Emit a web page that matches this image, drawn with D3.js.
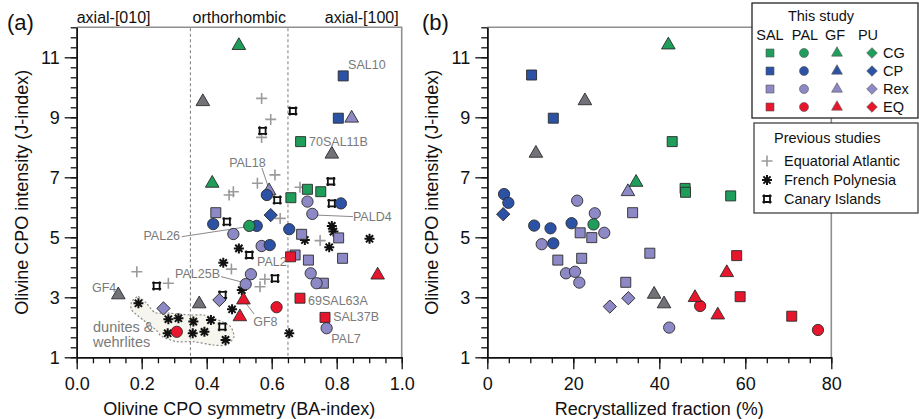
<!DOCTYPE html>
<html><head><meta charset="utf-8">
<script src="https://cdn.jsdelivr.net/npm/d3@7"></script>
<style>body{margin:0;background:#fff} svg{display:block;font-family:"Liberation Sans",Arial,Helvetica,sans-serif}</style>
</head><body><svg id="c" width="919" height="419"></svg>
<script>
// ---------------- data ----------------
const aTicksX = [0, 0.2, 0.4, 0.6, 0.8, 1.0];
const bTicksX = [0, 20, 40, 60, 80];
const yTicks = [1, 3, 5, 7, 9, 11];
const regionLabels = ["axial-[010]", "orthorhombic", "axial-[100]"];
const regionBounds = [0.35, 0.65];

// panel (a): [BA-index, J-index, locality]
const aCG = [[0.689,8.19,'SAL'],[0.659,6.32,'SAL'],[0.710,6.60,'SAL'],[0.751,6.52,'SAL'],[0.531,5.38,'PAL'],[0.499,11.39,'GF'],[0.417,6.80,'GF']];
const aCP = [[0.820,10.38,'SAL'],[0.805,8.97,'SAL'],[0.420,5.44,'PAL'],[0.554,5.38,'PAL'],[0.585,6.41,'PAL'],[0.813,6.13,'PAL'],[0.654,5.27,'PAL'],[0.594,4.74,'PAL'],[0.597,5.74,'PU']];
const aRex = [[0.428,5.82,'SAL'],[0.692,5.10,'SAL'],[0.806,4.98,'SAL'],[0.672,4.41,'SAL'],[0.713,4.24,'SAL'],[0.818,4.30,'SAL'],[0.759,3.47,'SAL'],
  [0.482,5.11,'PAL'],[0.536,3.77,'PAL'],[0.710,6.19,'PAL'],[0.725,5.78,'PAL'],[0.569,4.71,'PAL'],[0.720,3.80,'PAL'],[0.738,3.47,'PAL'],[0.520,3.44,'PAL'],[0.769,1.97,'PAL'],
  [0.846,8.97,'GF'],[0.592,6.55,'GF'],[0.267,2.63,'PU'],[0.439,2.91,'PU']];
const aEQ = [[0.658,4.35,'SAL'],[0.687,2.97,'SAL'],[0.764,2.33,'SAL'],[0.615,2.67,'PAL'],[0.308,1.85,'PAL'],[0.926,3.74,'GF'],[0.513,2.91,'GF'],[0.502,2.35,'GF']];
const aGFgrey = [[0.388,9.52],[0.785,7.77],[0.128,3.08],[0.377,2.78]];
const aEqAtlantic = [[0.569,9.63],[0.597,8.93],[0.569,8.33],[0.482,6.52],[0.469,6.41],[0.556,6.80],[0.610,7.08],[0.687,6.67],[0.626,5.63],[0.476,3.94],[0.185,3.85],[0.749,4.89],[0.579,3.60],[0.564,3.35],[0.282,3.47]];
const aFrPolynesia = [[0.785,5.38],[0.790,5.19],[0.901,4.95],[0.777,4.67],[0.702,4.91],[0.499,4.63],[0.451,4.15],[0.508,3.24],[0.478,2.60],[0.190,2.80],[0.282,2.27],[0.313,2.30],[0.359,2.19],[0.413,2.24],[0.280,1.80],[0.357,1.80],[0.393,1.85],[0.458,1.58],[0.654,1.80]];
const aCanary = [[0.665,9.21],[0.572,8.55],[0.462,5.52],[0.531,4.41],[0.617,6.24],[0.782,6.86],[0.785,6.13],[0.610,3.63],[0.449,3.08],[0.246,3.38],[0.448,2.02]];
// sample labels [text, x, y, anchor]
const aLabels = [['SAL10',0.835,10.74,'start'],['70SAL11B',0.715,8.18,'start'],['PAL18',0.469,7.48,'start'],['PALD4',0.850,5.68,'start'],
  ['PAL26',0.318,5.04,'end'],['PAL25B',0.441,3.80,'end'],['PAL2',0.555,4.18,'start'],['GF4',0.047,3.31,'start'],['GF8',0.543,2.18,'start'],
  ['69SAL63A',0.712,2.88,'start'],['SAL37B',0.789,2.34,'start'],['PAL7',0.783,1.61,'start']];
const aLeaders = [[0.570,7.31,0.595,6.50],[0.738,5.74,0.850,5.69],[0.323,5.02,0.523,5.35],[0.444,3.69,0.518,3.48],[0.546,2.44,0.518,2.84]];
// dunites & wehrlites field outline [x, y]
const duniteField = [[0.169,2.85],[0.189,3.02],[0.215,2.80],[0.241,2.49],[0.287,2.47],[0.349,2.41],[0.390,2.41],[0.431,2.26],[0.472,2.04],[0.484,1.69],[0.462,1.41],[0.420,1.41],[0.359,1.52],[0.308,1.52],[0.262,1.69],[0.244,1.91],[0.205,2.24],[0.169,2.58]];
const duniteText = ['dunites &', 'wehrlites'];

// panel (b): [recrystallized %, J-index, locality]
const bCG = [[43.0,8.19,'SAL'],[46.0,6.63,'SAL'],[46.1,6.50,'SAL'],[56.6,6.38,'SAL'],[24.7,5.43,'PAL'],[42.1,11.41,'GF'],[34.6,6.83,'GF']];
const bCP = [[10.3,10.41,'SAL'],[15.35,8.97,'SAL'],[3.9,6.44,'PAL'],[4.9,6.15,'PAL'],[10.9,5.39,'PAL'],[14.7,5.30,'PAL'],[19.6,5.47,'PAL'],[15.35,4.80,'PAL'],[3.7,5.77,'PU']];
const bRex = [[33.8,5.82,'SAL'],[21.6,5.15,'SAL'],[24.3,4.99,'SAL'],[16.4,4.24,'SAL'],[21.95,4.30,'SAL'],[37.8,4.47,'SAL'],[32.2,3.50,'SAL'],
  [20.9,6.22,'PAL'],[25.0,5.80,'PAL'],[27.2,5.15,'PAL'],[12.65,4.77,'PAL'],[18.3,3.80,'PAL'],[20.4,3.85,'PAL'],[21.4,3.49,'PAL'],[42.3,1.99,'PAL'],
  [32.7,6.52,'GF'],[32.8,2.97,'PU'],[28.5,2.69,'PU']];
const bEQ = [[58.0,4.39,'SAL'],[58.8,3.02,'SAL'],[70.8,2.37,'SAL'],[49.5,2.71,'PAL'],[76.9,1.91,'PAL'],[48.3,2.99,'GF'],[53.6,2.41,'GF'],[55.7,3.82,'GF']];
const bGFgrey = [[22.7,9.55],[11.3,7.80],[38.8,3.10],[41.1,2.78]];

// legend
const localities = ['SAL','PAL','GF','PU'];
const textures = ['CG','CP','Rex','EQ'];
const previous = ['Equatorial Atlantic','French Polynesia','Canary Islands'];

// ---------------- drawing ----------------
const colors = {CG:'#1f9d5b', CP:'#2c52a6', Rex:'#8c89c6', EQ:'#e8162c', grey:'#727279'};
const svg = d3.select('#c');

const xa = d3.scaleLinear([0,1],[76.7,401.7]);
const xb = d3.scaleLinear([0,80],[487.3,831.3]);
const y = d3.scaleLinear([1,12],[357.3,27.3]);

const shapeGen = {
  SAL: s => d3.symbol(d3.symbolSquare, 100*s*s)(),
  PAL: s => d3.symbol(d3.symbolCircle, 100*s*s)(),
  GF:  s => d3.symbol(d3.symbolTriangle, 80*s*s)(),
  PU:  s => d3.symbol(d3.symbolSquare, 88*s*s)()
};
const plusPath = 'M-5.5,0H5.5M0,-5.5V5.5';
const starPath = 'M-5,0H5M0,-5V5M-3.6,-3.6L3.6,3.6M-3.6,3.6L3.6,-3.6';
const canaryPath = 'M-4.5,-3H4.5M-4.5,3H4.5M-3,-4.5V4.5M3,-4.5V4.5';

function axes(x, minorStep, majors, fmt){
  const [r0, r1] = x.range();
  svg.append('path').attr('d',`M${r0},${y(12)}H${r1}V${y(1)}`).attr('fill','none').attr('stroke','#8f8f8f').attr('stroke-width',1.6);
  const d = x.domain();
  const minors = d3.range(d[0], d[1] + minorStep/2, minorStep);
  const gx1 = svg.append('g').attr('transform',`translate(0,${y(1)})`)
    .call(d3.axisBottom(x).tickValues(minors).tickSize(6).tickSizeOuter(0).tickFormat(''));
  const gx2 = svg.append('g').attr('transform',`translate(0,${y(1)})`)
    .call(d3.axisBottom(x).tickValues(majors).tickSize(12).tickSizeOuter(0).tickPadding(8).tickFormat(fmt));
  const yMinors = d3.range(0, 34).map(k => 1 + k/3);
  const gy1 = svg.append('g').attr('transform',`translate(${r0},0)`)
    .call(d3.axisLeft(y).tickValues(yMinors).tickSize(6).tickSizeOuter(0).tickFormat(''));
  const gy2 = svg.append('g').attr('transform',`translate(${r0},0)`)
    .call(d3.axisLeft(y).tickValues(yTicks).tickSize(12).tickSizeOuter(0).tickPadding(5).tickFormat(d3.format('d')));
  [gx1,gx2,gy1,gy2].forEach(g => {
    g.select('.domain').attr('stroke','#111').attr('stroke-width',1.5);
    g.selectAll('.tick line').attr('stroke','#111').attr('stroke-width',1.3);
    g.selectAll('text').attr('font-size',18).attr('fill','#111').attr('font-family','"Liberation Sans",Arial,sans-serif');
  });
}

function drawPrev(x, plus, star, canary){
  svg.append('g').selectAll('path').data(plus).join('path')
    .attr('transform', d => `translate(${x(d[0])},${y(d[1])})`).attr('d', plusPath)
    .attr('stroke','#9b9b9b').attr('stroke-width',1.6).attr('fill','none');
  svg.append('g').selectAll('path').data(star).join('path')
    .attr('transform', d => `translate(${x(d[0])},${y(d[1])})`).attr('d', starPath)
    .attr('stroke','#111').attr('stroke-width',2).attr('fill','none');
  const gc = svg.append('g').selectAll('g').data(canary).join('g')
    .attr('transform', d => `translate(${x(d[0])},${y(d[1])})`);
  gc.append('rect').attr('x',-3).attr('y',-3).attr('width',6).attr('height',6).attr('fill','#fff');
  gc.append('path').attr('d', canaryPath).attr('stroke','#111').attr('stroke-width',1.8).attr('fill','none');
}

function drawStudy(x, data, color, s=1){
  svg.append('g').selectAll('path').data(data).join('path')
    .attr('transform', d => `translate(${x(d[0])},${y(d[1])})` + (d[2]==='PU' ? ' rotate(45)' : ''))
    .attr('d', d => shapeGen[d[2]](s))
    .attr('fill', color).attr('stroke','#2b2b2b').attr('stroke-width',0.9);
}

// ---------- panel (a) ----------
// dunite field
svg.append('path').datum(duniteField)
  .attr('d', d3.line().x(d => xa(d[0])).y(d => y(d[1])).curve(d3.curveCardinalClosed.tension(0.3)))
  .attr('fill','#f6f6ee').attr('stroke','#8a8a8a').attr('stroke-width',1.2).attr('stroke-dasharray','2,2');
svg.append('g').selectAll('text').data(duniteText).join('text')
  .attr('x',93).attr('y',(d,i) => 332 + i*14.5).attr('font-size',14.5).attr('fill','#7a7a7a').text(d => d);

axes(xa, 0.05, aTicksX, d3.format('.1f'));
svg.append('g').selectAll('line').data(regionBounds).join('line')
  .attr('x1', d => xa(d)).attr('x2', d => xa(d)).attr('y1', y(12)+1).attr('y2', y(1))
  .attr('stroke','#8a8a8a').attr('stroke-width',1.1).attr('stroke-dasharray','3,2.5');
svg.append('text').attr('x', xa(0)).attr('y',23).attr('font-size',16).attr('fill','#111').text(regionLabels[0]);
svg.append('text').attr('x', xa(0.5)).attr('y',23).attr('font-size',16).attr('fill','#111').attr('text-anchor','middle').text(regionLabels[1]);
svg.append('text').attr('x', xa(1)-3).attr('y',23).attr('font-size',16).attr('fill','#111').attr('text-anchor','end').text(regionLabels[2]);

svg.append('g').selectAll('line').data(aLeaders).join('line')
  .attr('x1', d => xa(d[0])).attr('y1', d => y(d[1])).attr('x2', d => xa(d[2])).attr('y2', d => y(d[3]))
  .attr('stroke','#8a8a8a').attr('stroke-width',1);

drawPrev(xa, aEqAtlantic, aFrPolynesia, aCanary);
drawStudy(xa, aGFgrey.map(d => [d[0], d[1], 'GF']), colors.grey);
drawStudy(xa, aRex, colors.Rex);
drawStudy(xa, aCP, colors.CP);
drawStudy(xa, aCG, colors.CG);
drawStudy(xa, aEQ, colors.EQ);

svg.append('g').selectAll('text').data(aLabels).join('text')
  .attr('x', d => xa(d[1])).attr('y', d => y(d[2])).attr('dy','0.35em').attr('text-anchor', d => d[3])
  .attr('font-size',12.5).attr('fill','#7a7a7a').text(d => d[0]);

svg.append('text').attr('x', (xa.range()[0]+xa.range()[1])/2).attr('y',415).attr('text-anchor','middle').attr('font-size',18).attr('fill','#111').text('Olivine CPO symmetry (BA-index)');
svg.append('text').attr('transform',`translate(28,${y(6.5)}) rotate(-90)`).attr('text-anchor','middle').attr('font-size',18).attr('fill','#111').text('Olivine CPO intensity (J-index)');
svg.append('text').attr('x',7).attr('y',30).attr('font-size',22).attr('fill','#111').text('(a)');

// ---------- panel (b) ----------
axes(xb, 5, bTicksX, d3.format('d'));
drawStudy(xb, bGFgrey.map(d => [d[0], d[1], 'GF']), colors.grey);
drawStudy(xb, bRex, colors.Rex);
drawStudy(xb, bCP, colors.CP);
drawStudy(xb, bCG, colors.CG);
drawStudy(xb, bEQ, colors.EQ);
svg.append('text').attr('x', (xb.range()[0]+xb.range()[1])/2).attr('y',415).attr('text-anchor','middle').attr('font-size',18).attr('fill','#111').text('Recrystallized fraction (%)');
svg.append('text').attr('transform',`translate(438,${y(6.5)}) rotate(-90)`).attr('text-anchor','middle').attr('font-size',18).attr('fill','#111').text('Olivine CPO intensity (J-index)');
svg.append('text').attr('x',422).attr('y',30).attr('font-size',22).attr('fill','#111').text('(b)');

// ---------- legends ----------
const L = svg.append('g');
L.append('rect').attr('x',752).attr('y',3).attr('width',166).attr('height',115).attr('fill','#fff').attr('stroke','#222').attr('stroke-width',1.3);
L.append('text').attr('x',821).attr('y',21).attr('text-anchor','middle').attr('font-size',14.5).attr('fill','#111').text('This study');
const colX = [770, 804, 837, 872];
const hdrX = [770, 805, 835, 868];
L.selectAll('text.h').data(localities).join('text').attr('class','h')
  .attr('x',(d,i) => hdrX[i]).attr('y',40).attr('text-anchor','middle').attr('font-size',14.5).attr('fill','#111').text(d => d);
textures.forEach((t, r) => {
  const yy = 53 + r*18;
  localities.forEach((loc, c) => {
    L.append('path').attr('transform',`translate(${colX[c]},${yy})` + (loc==='PU' ? ' rotate(45)' : ''))
      .attr('d', shapeGen[loc](0.8)).attr('fill', colors[t]).attr('stroke','#555').attr('stroke-width',0.6);
  });
  L.append('text').attr('x',883).attr('y',yy+5).attr('font-size',14.5).attr('fill','#111').text(t);
});

L.append('rect').attr('x',754).attr('y',123).attr('width',164).attr('height',90).attr('fill','#fff').attr('stroke','#333').attr('stroke-width',1.2);
L.append('text').attr('x',774).attr('y',143).attr('font-size',14.5).attr('fill','#111').text('Previous studies');
const prevPaths = [plusPath, starPath, canaryPath];
previous.forEach((p, i) => {
  const yy = 161 + i*19;
  const g = L.append('g').attr('transform',`translate(767,${yy})`);
  if (i === 2) g.append('rect').attr('x',-3).attr('y',-3).attr('width',6).attr('height',6).attr('fill','#fff');
  g.append('path').attr('d', prevPaths[i]).attr('fill','none')
    .attr('stroke', i === 0 ? '#9b9b9b' : '#111').attr('stroke-width', i === 0 ? 1.6 : (i === 1 ? 2 : 1.8));
  L.append('text').attr('x',784).attr('y',yy+5).attr('font-size',14.5).attr('fill','#111').text(p);
});
</script></body></html>
